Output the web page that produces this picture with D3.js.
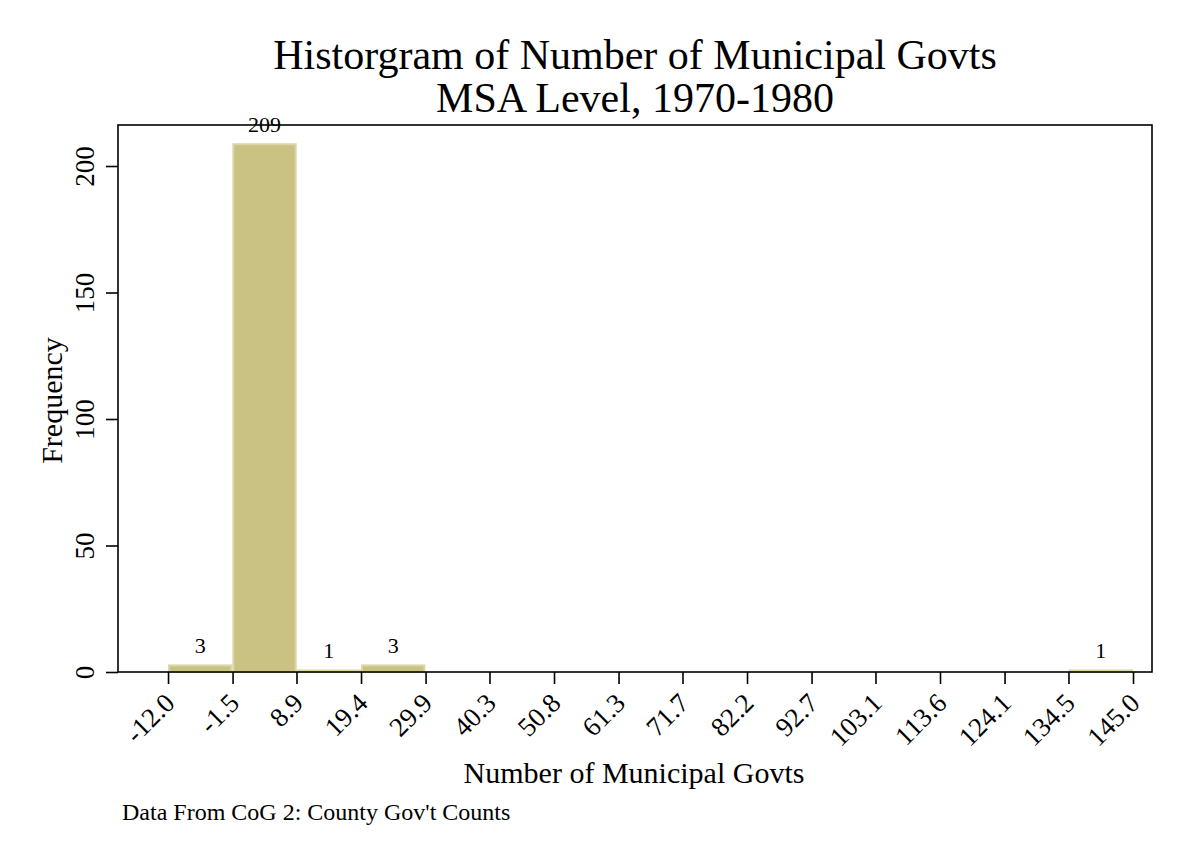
<!DOCTYPE html>
<html>
<head>
<meta charset="utf-8">
<script src="https://cdn.jsdelivr.net/npm/d3@7"></script>
<style>
  body { margin: 0; background: #fff; }
  svg { font-family: "Liberation Serif", "Times New Roman", serif; }
</style>
</head>
<body>
<div id="chart"></div>
<script>
// bin edges as printed on the x axis
const binEdges = [-12.0, -1.5, 8.9, 19.4, 29.9, 40.3, 50.8, 61.3, 71.7, 82.2, 92.7, 103.1, 113.6, 124.1, 134.5, 145.0];
const binCounts = [3, 209, 1, 3, 0, 0, 0, 0, 0, 0, 0, 0, 0, 0, 1];
const yTicks = [0, 50, 100, 150, 200];

const width = 1183, height = 861;
const plot = { left: 118, right: 1152, top: 125, bottom: 672 };

const svg = d3.select("#chart").append("svg")
  .attr("width", width).attr("height", height);

const x = d3.scaleLinear().domain([-20.14, 148.09]).range([plot.left, plot.right]);
const y = d3.scaleLinear().domain([0, 200]).range([plot.bottom, 166]);

const bins = binCounts.map((count, i) => ({
  x0: -12 + i * (157 / 15),
  x1: -12 + (i + 1) * (157 / 15),
  count,
}));

// bars
svg.append("g").selectAll("rect")
  .data(bins.filter((d) => d.count > 0))
  .join("rect")
  .attr("x", (d) => x(d.x0) + 1)
  .attr("width", (d) => x(d.x1) - x(d.x0) - 2)
  .attr("y", (d) => y(d.count) + 1)
  .attr("height", (d) => Math.max(y(0) - y(d.count) - 1, 0.5))
  .attr("fill", "#c9c283")
  .attr("stroke", "#dcd6a6")
  .attr("stroke-width", 2);

// bar labels
svg.append("g").selectAll("text")
  .data(bins.filter((d) => d.count > 0))
  .join("text")
  .attr("x", (d) => x((d.x0 + d.x1) / 2))
  .attr("y", (d) => y(d.count) - 11)
  .attr("text-anchor", "middle")
  .attr("font-size", 22)
  .text((d) => d.count);

// frame
svg.append("rect")
  .attr("x", plot.left).attr("y", plot.top)
  .attr("width", plot.right - plot.left)
  .attr("height", plot.bottom - plot.top)
  .attr("fill", "none").attr("stroke", "#000").attr("stroke-width", 1.6);

const fmt = (v) => v.toFixed(1);

// x axis
const xAxis = svg.append("g")
  .attr("transform", `translate(0,${plot.bottom})`)
  .call(d3.axisBottom(x).tickValues(binEdges).tickSize(12).tickFormat(fmt));
xAxis.select(".domain").remove();
xAxis.selectAll("line").attr("stroke-width", 1.6);
xAxis.selectAll("text")
  .attr("font-size", 27)
  .attr("font-family", "Liberation Serif, serif")
  .attr("text-anchor", "end")
  .attr("dy", "0.35em")
  .attr("transform", "translate(1,26) rotate(-45)")
  .attr("y", 0).attr("x", 0);

// y axis
const yAxis = svg.append("g")
  .attr("transform", `translate(${plot.left},0)`)
  .call(d3.axisLeft(y).tickValues(yTicks).tickSize(12));
yAxis.select(".domain").remove();
yAxis.selectAll("line").attr("stroke-width", 1.6);
yAxis.selectAll("text")
  .attr("font-size", 27)
  .attr("font-family", "Liberation Serif, serif")
  .attr("text-anchor", "middle")
  .attr("x", 0).attr("dy", 0)
  .attr("transform", "translate(-24,0) rotate(-90)");

// titles
svg.append("text")
  .attr("x", 635).attr("y", 69)
  .attr("text-anchor", "middle").attr("font-size", 42)
  .text("Historgram of Number of Municipal Govts");
svg.append("text")
  .attr("x", 635).attr("y", 112)
  .attr("text-anchor", "middle").attr("font-size", 42)
  .text("MSA Level, 1970-1980");

svg.append("text")
  .attr("transform", `translate(62,${(plot.top + plot.bottom) / 2 + 2}) rotate(-90)`)
  .attr("text-anchor", "middle").attr("font-size", 30)
  .text("Frequency");

svg.append("text")
  .attr("x", 634).attr("y", 783)
  .attr("text-anchor", "middle").attr("font-size", 30)
  .text("Number of Municipal Govts");

svg.append("text")
  .attr("x", 122).attr("y", 820)
  .attr("font-size", 24)
  .text("Data From CoG 2: County Gov't Counts");
</script>
</body>
</html>
